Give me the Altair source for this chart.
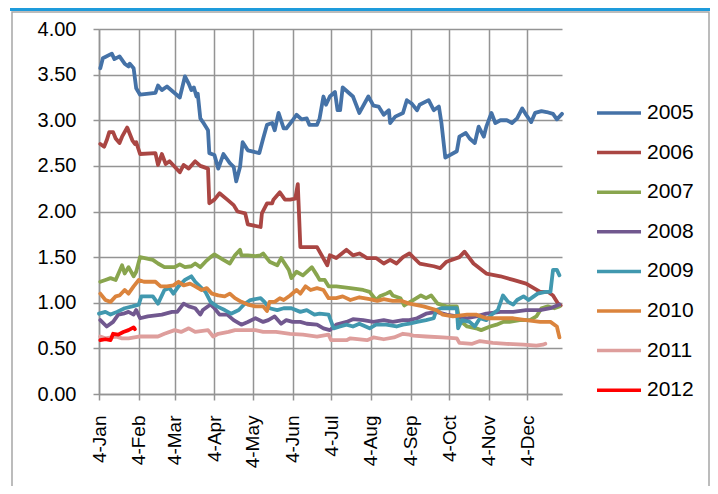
import altair as alt
import pandas as pd

# Days after 4-Jan, and values, for each year
d2005 = [1,3,10,12,16,20,23,24,27,29,32,44,46,49,53,58,63,67,70,72,74,76,77,79,81,85,86,90,93,97,102,105,107,110,112,116,125,128,131,135,137,140,144,146,151,154,158,162,164,170,172,175,177,180,184,186,188,190,194,198,203,210,214,218,222,226,227,231,237,240,244,248,250,257,261,265,267,270,279,281,286,289,293,296,300,302,306,309,313,318,322,326,330,333,337,340,345,349,354,357,361]
v2005 = [3.57,3.68,3.73,3.67,3.70,3.62,3.59,3.62,3.57,3.35,3.28,3.30,3.38,3.33,3.37,3.31,3.25,3.48,3.40,3.33,3.36,3.26,3.29,3.02,2.98,2.89,2.64,2.62,2.47,2.63,2.53,2.49,2.33,2.49,2.76,2.67,2.64,2.80,2.95,2.97,2.89,3.08,2.91,2.91,3.00,3.06,3.01,3.02,2.95,2.95,3.02,3.26,3.17,3.26,3.31,3.11,3.11,3.36,3.31,3.26,3.08,3.26,3.16,3.15,3.06,3.11,2.97,3.04,3.08,3.22,3.18,3.11,3.17,3.22,3.11,3.15,2.97,2.59,2.66,2.82,2.86,2.80,2.75,2.93,2.82,2.93,3.08,2.97,3.00,3.00,2.97,3.02,3.13,3.06,2.98,3.08,3.10,3.09,3.07,3.01,3.07]

d2006 = [1,4,6,8,11,13,16,18,22,26,28,29,32,44,46,49,52,55,59,63,66,70,75,79,85,86,90,94,100,105,108,114,116,126,127,131,135,136,141,145,149,153,155,157,159,170,178,180,185,193,198,203,209,216,222,227,232,237,242,250,261,266,271,281,285,292,302,313,323,333,344,350,354,358,360]
v2006 = [2.74,2.71,2.78,2.87,2.87,2.80,2.75,2.82,2.92,2.78,2.74,2.76,2.63,2.64,2.51,2.63,2.52,2.55,2.49,2.43,2.51,2.47,2.55,2.50,2.47,2.09,2.13,2.20,2.13,2.07,2.00,1.98,1.86,1.83,1.98,2.09,2.09,2.13,2.21,2.13,2.13,2.14,2.30,1.61,1.61,1.61,1.41,1.52,1.49,1.58,1.52,1.54,1.49,1.49,1.43,1.47,1.43,1.50,1.54,1.43,1.40,1.38,1.45,1.50,1.56,1.43,1.32,1.29,1.25,1.21,1.12,1.12,1.08,0.99,0.97]

d2007 = [1,5,9,13,18,20,23,27,29,32,42,46,51,59,63,67,72,75,79,83,87,90,97,102,106,110,111,116,122,126,128,133,139,142,148,150,154,159,166,170,172,176,179,185,196,206,211,216,219,224,227,229,235,238,245,251,255,259,264,271,279,281,287,294,298,305,310,315,320,328,336,341,345,350,355,359]
v2007 = [1.23,1.25,1.27,1.25,1.41,1.32,1.39,1.29,1.34,1.50,1.47,1.43,1.39,1.39,1.42,1.39,1.40,1.43,1.39,1.45,1.50,1.53,1.47,1.43,1.52,1.58,1.52,1.52,1.51,1.52,1.54,1.45,1.41,1.49,1.36,1.27,1.34,1.30,1.39,1.30,1.25,1.25,1.18,1.18,1.16,1.14,1.12,1.03,1.07,1.10,1.12,1.08,1.05,0.97,1.03,1.08,1.05,1.08,0.99,0.96,0.96,0.81,0.74,0.72,0.70,0.74,0.76,0.79,0.79,0.81,0.81,0.85,0.94,0.96,0.94,0.96]

d2008 = [1,6,11,15,19,23,27,29,32,38,49,57,61,66,70,75,79,81,87,90,94,100,105,111,116,122,128,132,137,142,146,151,157,162,170,175,180,185,193,198,206,214,222,229,237,242,248,255,263,271,279,287,294,302,313,323,333,344,352,359]
v2008 = [0.81,0.74,0.79,0.87,0.88,0.90,0.87,0.92,0.83,0.85,0.87,0.90,0.90,0.99,0.96,0.94,0.87,0.92,0.98,0.94,0.87,0.87,0.81,0.76,0.79,0.83,0.79,0.81,0.85,0.77,0.81,0.79,0.79,0.77,0.76,0.72,0.70,0.76,0.79,0.82,0.81,0.79,0.81,0.79,0.81,0.81,0.83,0.88,0.90,0.87,0.85,0.83,0.85,0.88,0.90,0.90,0.92,0.92,0.94,0.98]

d2009 = [0,5,9,14,20,26,31,33,42,46,51,55,58,62,67,72,75,83,87,92,98,103,109,113,118,126,129,133,139,144,150,157,162,168,172,179,183,188,193,198,203,211,216,224,232,237,242,248,255,261,263,267,279,280,283,289,293,297,302,307,311,315,319,323,326,331,335,339,342,348,352,354,357,359]
v2009 = [0.88,0.90,0.87,0.90,0.94,0.96,0.98,1.07,1.07,0.99,1.14,1.16,1.10,1.18,1.25,1.29,1.23,1.12,1.01,0.96,0.92,0.88,0.92,0.98,1.03,1.05,1.01,0.94,0.92,0.94,0.94,0.90,0.92,0.87,0.88,0.87,0.72,0.74,0.76,0.74,0.77,0.72,0.76,0.76,0.74,0.76,0.77,0.79,0.81,0.83,0.92,0.94,0.94,0.72,0.81,0.79,0.74,0.83,0.81,0.88,0.92,1.08,1.01,0.98,1.03,1.07,1.03,1.07,1.10,1.12,1.12,1.36,1.36,1.30]

d2010 = [1,5,9,13,16,20,23,27,31,35,44,48,53,58,62,66,71,75,80,84,88,93,98,102,106,111,116,122,128,131,133,137,141,144,149,154,157,161,165,170,175,179,185,190,196,203,211,217,222,229,236,242,253,263,268,276,287,294,302,313,323,333,344,352,357,359]
v2010 = [1.10,1.03,1.01,1.07,1.08,1.14,1.10,1.18,1.25,1.23,1.23,1.18,1.18,1.19,1.23,1.19,1.21,1.18,1.14,1.16,1.10,1.08,1.07,1.10,1.05,1.01,0.98,0.96,0.96,0.91,1.01,1.01,1.05,1.03,1.08,1.14,1.10,1.18,1.14,1.16,1.14,1.05,1.05,1.07,1.03,1.06,1.04,1.02,1.04,1.02,1.02,0.99,0.96,0.92,0.87,0.85,0.87,0.87,0.83,0.83,0.83,0.81,0.79,0.79,0.74,0.62]

d2011 = [1,5,13,18,23,31,46,51,59,64,70,75,85,89,93,101,106,116,122,128,138,149,159,170,179,181,193,196,209,214,222,230,237,242,245,255,268,279,281,291,297,307,318,331,341,346,348]
v2011 = [0.63,0.61,0.63,0.61,0.61,0.63,0.63,0.66,0.70,0.68,0.72,0.68,0.70,0.63,0.66,0.68,0.70,0.70,0.70,0.68,0.68,0.66,0.65,0.63,0.65,0.59,0.59,0.61,0.59,0.62,0.60,0.62,0.66,0.65,0.64,0.63,0.62,0.61,0.56,0.55,0.58,0.56,0.55,0.54,0.53,0.54,0.55]

d2012 = [1,5,9,11,15,19,23,27,28]
v2012 = [0.59,0.60,0.59,0.66,0.65,0.68,0.70,0.73,0.71]

years = ["2005", "2006", "2007", "2008", "2009", "2010", "2011", "2012"]
colors = ["#4572A7", "#AA4643", "#89A54E", "#71588F", "#4198AF", "#DB843D", "#DE9E9C", "#FF0000"]
y_ticks = [0, 0.5, 1.0, 1.5, 2.0, 2.5, 3.0, 3.5, 4.0]

series = {
    "2005": (d2005, v2005), "2006": (d2006, v2006), "2007": (d2007, v2007),
    "2008": (d2008, v2008), "2009": (d2009, v2009), "2010": (d2010, v2010),
    "2011": (d2011, v2011), "2012": (d2012, v2012),
}

base = pd.Timestamp("2001-01-04")
rows = []
for yr in years:
    ds, vs = series[yr]
    for i, (d, v) in enumerate(zip(ds, vs)):
        rows.append({
            "date": (base + pd.Timedelta(days=d)).strftime("%Y-%m-%dT%H:%M:%S"),
            "value": v, "year": yr, "i": i,
        })
df = pd.DataFrame(rows)

GRID = "#949494"
FONT = "Liberation Sans"

x_vals = [alt.DateTime(year=2001, month=m, date=4) for m in range(1, 13)]

lines = alt.Chart(df).mark_line(strokeWidth=3.8, strokeJoin="round", strokeCap="round").encode(
    x=alt.X("date:T",
            scale=alt.Scale(domain=[alt.DateTime(year=2001, month=1, date=4),
                                    alt.DateTime(year=2001, month=12, date=31)], nice=False),
            axis=alt.Axis(values=x_vals, format="%-d-%b", labelAngle=-90, title=None,
                          grid=True, gridColor=GRID, gridWidth=1.5,
                          domainColor=GRID, domainWidth=1.5, tickColor=GRID, tickWidth=1.5,
                          tickSize=6, labelPadding=15, labelFontSize=19, labelFont=FONT,
                          labelColor="#000000", labelAlign="right", labelBaseline="middle")),
    y=alt.Y("value:Q", scale=alt.Scale(domain=[0, 4], nice=False),
            axis=alt.Axis(values=y_ticks, format=".2f", title=None, grid=True,
                          gridColor=GRID, gridWidth=1.5, domainColor=GRID, domainWidth=1.5,
                          tickColor=GRID, tickWidth=1.5, tickSize=6, labelPadding=17,
                          labelFontSize=20, labelFont=FONT, labelColor="#000000")),
    color=alt.Color("year:N", scale=alt.Scale(domain=years, range=colors),
                    legend=alt.Legend(title=None, orient="none", legendX=496, legendY=60,
                                      symbolType="stroke", symbolSize=1936,
                                      symbolStrokeWidth=3.5, labelFontSize=21, labelFont=FONT,
                                      labelColor="#000000", labelOffset=4, rowPadding=5.6,
                                      padding=0)),
    order=alt.Order("i:Q"),
)

frame = alt.Chart(alt.Data(values=[{"a": 1}])).mark_rect(
    fill=None, stroke="#A6A6A6", strokeWidth=1.5
).encode(x=alt.value(-87), x2=alt.value(610), y=alt.value(-17), y2=alt.value(480))

topline = alt.Chart(alt.Data(values=[{"a": 1}])).mark_rule(
    stroke="#1E9BDB", strokeWidth=3
).encode(x=alt.value(-89), x2=alt.value(615), y=alt.value(-19.5))

chart = alt.layer(frame, topline, lines).properties(
    width=463, height=365,
    autosize=alt.AutoSizeParams(type="none"),
    padding={"left": 91, "top": 21, "right": 148, "bottom": 92},
).configure_view(stroke=None)

chart.save("out.html", embed_options={"renderer": "svg", "actions": False})
